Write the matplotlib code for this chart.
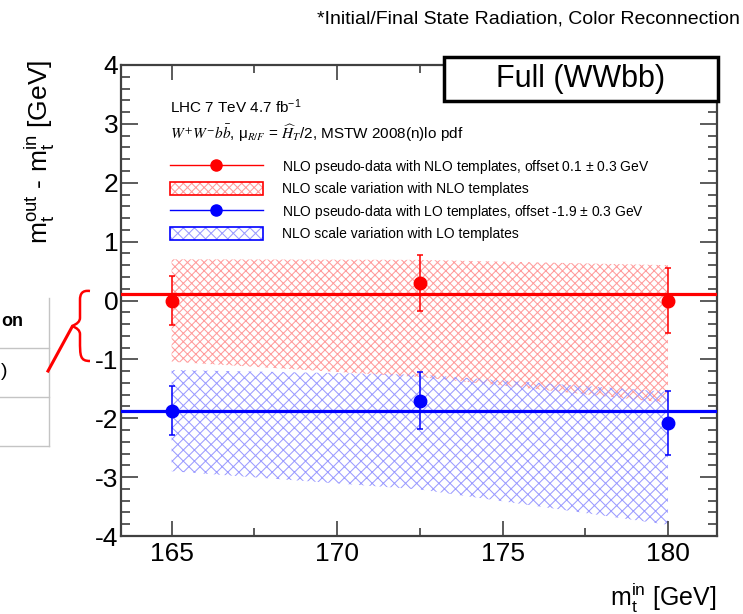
import matplotlib
matplotlib.use("Agg")
from matplotlib import pyplot as plt
from matplotlib.lines import Line2D
from matplotlib.patches import Patch, Rectangle, PathPatch
from matplotlib.path import Path
from matplotlib.ticker import MultipleLocator, FixedLocator

plt.rcParams['font.family'] = ['Liberation Sans', 'DejaVu Sans']
plt.rcParams['mathtext.fontset'] = 'custom'
plt.rcParams['mathtext.rm'] = 'Liberation Sans'
plt.rcParams['mathtext.it'] = 'Liberation Sans:italic'
plt.rcParams['axes.unicode_minus'] = False
plt.rcParams['hatch.linewidth'] = 0.75

# data
masses = [165, 172.5, 180]
nlo_vals = [0.0, 0.30, 0.0]
nlo_err = [0.42, 0.48, 0.56]
lo_vals = [-1.87, -1.70, -2.08]
lo_err = [0.41, 0.48, 0.55]
nlo_band_hi = [0.70, 0.69, 0.60]
nlo_band_lo = [-1.04, -1.30, -1.74]
lo_band_hi = [-1.18, -1.26, -1.55]
lo_band_lo = [-2.90, -3.21, -3.81]
nlo_offset = 0.11
lo_offset = -1.87

x_ticks = [165, 170, 175, 180]
y_ticks = [-4, -3, -2, -1, 0, 1, 2, 3, 4]
y_ticklabels = ['-4', '-3', '-2', '-1', '0', '1', '2', '3', '4']

legend_labels = [
    'NLO pseudo-data with NLO templates, offset 0.1 $\\pm$ 0.3 GeV',
    'NLO scale variation with NLO templates',
    'NLO pseudo-data with LO templates, offset -1.9 $\\pm$ 0.3 GeV',
    'NLO scale variation with LO templates',
]

W, H = 743, 614


def fx(px):
    return px / W


def fy(py):
    return 1 - py / H


fig = plt.figure(figsize=(7.43, 6.14), dpi=100)
ax = fig.add_axes([fx(121), fy(536), (717 - 121) / W, (536 - 65) / H])

# bands
ax.fill_between(masses, nlo_band_lo, nlo_band_hi, facecolor='none',
                edgecolor='#ff9c9c', hatch='xxxx', linewidth=0)
ax.fill_between(masses, lo_band_lo, lo_band_hi, facecolor='none',
                edgecolor='#9c9cff', hatch='xxx', linewidth=0)

# offset lines
ax.axhline(nlo_offset, color='#ff0000', lw=2.3, zorder=3)
ax.axhline(lo_offset, color='#0000ff', lw=2.3, zorder=3)

# pseudo-data points
ax.errorbar(masses, nlo_vals, yerr=nlo_err, fmt='o', color='#ff0000',
            ms=9, elinewidth=1.1, capsize=2.5, capthick=1.1, zorder=4)
ax.errorbar(masses, lo_vals, yerr=lo_err, fmt='o', color='#0000ff',
            ms=9, elinewidth=1.1, capsize=2.5, capthick=1.1, zorder=4)

ax.set_xlim(163.47, 181.48)
ax.set_ylim(-4, 4)
ax.xaxis.set_major_locator(FixedLocator(x_ticks))
ax.xaxis.set_minor_locator(MultipleLocator(2.5))
ax.yaxis.set_major_locator(FixedLocator(y_ticks))
ax.set_yticklabels(y_ticklabels)
ax.yaxis.set_minor_locator(MultipleLocator(0.2))
ax.tick_params(which='both', direction='in', top=True, right=True,
               color='#404040', width=1.2, labelsize=19)
ax.tick_params(axis='x', which='major', length=11, pad=4)
ax.tick_params(axis='x', which='minor', length=6)
ax.tick_params(axis='y', which='major', length=12, pad=2)
ax.tick_params(axis='y', which='minor', length=6.5)
for s in ax.spines.values():
    s.set_color('#404040')
    s.set_linewidth(1.6)

# legend texts
ax.text(0.082, 0.911, 'LHC 7 TeV 4.7 fb$^{-1}$', transform=ax.transAxes,
        fontsize=11, va='center', ha='left')
ax.text(0.082, 0.856,
        r'$W^{+}W^{-}b\bar{b}$, μ$_{R/F}$ = $\widehat{H}_{T}$/2, MSTW 2008(n)lo pdf',
        transform=ax.transAxes, fontsize=11, va='center', ha='left',
        math_fontfamily='stix')

h_nlo = Line2D([], [], color='#ff0000', lw=1, marker='o', ms=8)
h_nlo_band = (Patch(facecolor='none', edgecolor='#ff9c9c', hatch='xxxx', lw=0),
              Patch(facecolor='none', edgecolor='#ff0000', lw=1.2))
h_lo = Line2D([], [], color='#0000ff', lw=1, marker='o', ms=8)
h_lo_band = (Patch(facecolor='none', edgecolor='#9c9cff', hatch='xxx', lw=0),
             Patch(facecolor='none', edgecolor='#0000ff', lw=1.2))
ax.legend([h_nlo, h_nlo_band, h_lo, h_lo_band], legend_labels,
          loc='upper left', bbox_to_anchor=(0.082, 0.803), frameon=False,
          fontsize=10, handlelength=6.7, handleheight=1.08, handletextpad=1.4,
          labelspacing=0.45, borderpad=0, borderaxespad=0)

# axis titles
fig.text(fx(40), fy(152), r'$\mathrm{m_{t}^{out}}$ - $\mathrm{m_{t}^{in}}$ [GeV]',
         rotation=90, fontsize=19, ha='center', va='center')
fig.text(fx(716), fy(598), r'$\mathrm{m_{t}^{in}}$ [GeV]', fontsize=18,
         ha='right', va='center')

# slide decorations
fig.text(fx(740), fy(19), '*Initial/Final State Radiation, Color Reconnection',
         fontsize=14, ha='right', va='center')
fig.patches.append(Rectangle((fx(444), fy(101)), (718 - 444) / W, (101 - 57) / H,
                             transform=fig.transFigure, facecolor='white',
                             edgecolor='black', lw=2.5, zorder=5))
fig.text(fx(581), fy(79), 'Full (WWbb)', fontsize=22, ha='center', va='center',
         zorder=6)

# table fragment on the left
gray = '#c4c4c4'
fig.add_artist(Line2D([fx(49), fx(49)], [fy(298), fy(446)], color=gray, lw=1))
for yy in [348, 397, 446]:
    fig.add_artist(Line2D([fx(0), fx(49)], [fy(yy), fy(yy)], color=gray, lw=1))
fig.text(fx(1), fy(322), 'on', fontsize=13, fontweight='bold', ha='left', va='center')
fig.text(fx(1), fy(372), ')', fontsize=14, ha='left', va='center')

# red brace and pointer
pts = [(90, 291), (82, 290), (80, 294), (80, 300),
       (80, 318), (80, 323), (72, 326),
       (80, 329), (80, 334), (80, 340),
       (80, 356), (80, 361), (90, 361)]
codes = [Path.MOVETO, Path.CURVE4, Path.CURVE4, Path.CURVE4,
         Path.LINETO, Path.CURVE3, Path.CURVE3,
         Path.CURVE3, Path.CURVE3, Path.LINETO,
         Path.CURVE4, Path.CURVE4, Path.CURVE4]
brace = Path([(fx(a), fy(b)) for a, b in pts], codes)
fig.patches.append(PathPatch(brace, transform=fig.transFigure, facecolor='none',
                             edgecolor='#ff0000', lw=1.8))
fig.add_artist(Line2D([fx(48), fx(72)], [fy(371), fy(327)], color='#ff0000', lw=2.2))

fig.savefig('out.png', dpi=100)
